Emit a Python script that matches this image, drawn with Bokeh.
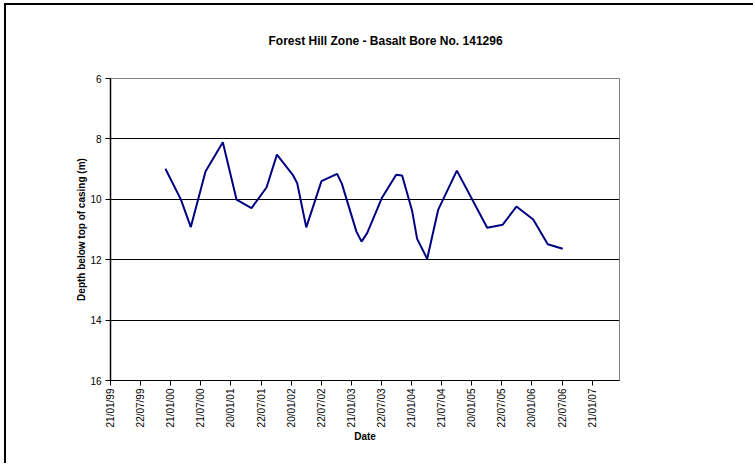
from datetime import date
from bokeh.plotting import figure
from bokeh.models import Range1d, FixedTicker, Title
from bokeh.embed import file_html
from bokeh.resources import INLINE

TITLE = "Forest Hill Zone - Basalt Bore No. 141296"
X_LABEL = "Date"
Y_LABEL = "Depth below top of casing (m)"

dates = [
    "1999-12-20", "2000-03-23", "2000-05-22", "2000-08-19", "2000-12-02",
    "2001-02-23", "2001-05-25", "2001-08-24", "2001-10-26", "2002-01-30",
    "2002-02-26", "2002-04-22", "2002-07-23", "2002-10-26", "2002-11-24",
    "2003-02-20", "2003-03-23", "2003-04-26", "2003-07-24", "2003-10-19",
    "2003-11-24", "2004-01-24", "2004-02-23", "2004-04-24", "2004-06-30",
    "2004-10-21", "2005-04-23", "2005-07-26", "2005-10-17", "2006-01-27",
    "2006-04-25", "2006-07-25",
]
depths = [
    8.99, 10.01, 10.92, 9.08, 8.11,
    10.01, 10.29, 9.61, 8.52, 9.19,
    9.47, 10.93, 9.40, 9.16, 9.49,
    11.07, 11.40, 11.12, 9.96, 9.19,
    9.21, 10.39, 11.31, 11.97, 10.34,
    9.05, 10.94, 10.84, 10.24, 10.67,
    11.49, 11.64,
]
x_tick_labels = [
    "21/01/99", "22/07/99", "21/01/00", "21/07/00", "20/01/01", "22/07/01",
    "20/01/02", "22/07/02", "21/01/03", "22/07/03", "21/01/04", "21/07/04",
    "20/01/05", "22/07/05", "20/01/06", "22/07/06", "21/01/07",
]
y_ticks = [6, 8, 10, 12, 14, 16]

AXIS_START = date(1999, 1, 21)
TICK_STEP_DAYS = 182.5
AXIS_END_DAYS = 3086

xs = [(date.fromisoformat(d) - AXIS_START).days for d in dates]
x_ticks = [i * TICK_STEP_DAYS for i in range(len(x_tick_labels))]

FONT = "Liberation Sans"

p = figure(
    width=749, height=460,
    output_backend="svg", toolbar_location=None,
    x_range=Range1d(0, AXIS_END_DAYS),
    y_range=Range1d(16, 6),
    min_border_left=104, min_border_right=136,
    min_border_top=73, min_border_bottom=85,
)
p.styles = {"margin-left": "4px", "margin-top": "3px",
            "border-left": "2px solid black", "border-top": "2px solid black"}

p.add_layout(Title(
    text=TITLE, text_font=FONT, text_font_size="12px", text_font_style="bold",
    text_color="black", align="left", offset=158,
    vertical_align="top", standoff=57,
), "above")

p.line(xs, depths, line_color="#000080", line_width=2)

# frame
p.outline_line_color = "#808080"
p.outline_line_width = 1
p.background_fill_color = "white"
p.border_fill_color = "white"

# grids
p.xgrid.grid_line_color = None
p.ygrid.grid_line_color = "black"
p.ygrid.grid_line_width = 1
p.ygrid.ticker = FixedTicker(ticks=y_ticks)

# x axis
xa = p.xaxis[0]
xa.ticker = FixedTicker(ticks=x_ticks)
xa.major_label_overrides = {t: lab for t, lab in zip(x_ticks, x_tick_labels)}
xa.major_label_orientation = 1.5707963
xa.major_tick_in = 0
xa.major_tick_out = 5
xa.minor_tick_line_color = None
xa.axis_line_color = "black"
xa.major_tick_line_color = "black"
xa.major_label_text_font = FONT
xa.major_label_text_font_size = "10px"
xa.major_label_text_color = "black"
xa.major_label_standoff = 3
xa.axis_label = X_LABEL
xa.axis_label_text_font = FONT
xa.axis_label_text_font_size = "10px"
xa.axis_label_text_font_style = "bold"
xa.axis_label_text_color = "black"
xa.axis_label_standoff = 1

# y axis
ya = p.yaxis[0]
ya.ticker = FixedTicker(ticks=y_ticks)
ya.major_tick_in = 0
ya.major_tick_out = 5
ya.minor_tick_line_color = None
ya.axis_line_color = "black"
ya.axis_line_width = 1.5
ya.major_tick_line_color = "black"
ya.major_label_text_font = FONT
ya.major_label_text_font_size = "10px"
ya.major_label_text_color = "black"
ya.major_label_standoff = 4
ya.axis_label = Y_LABEL
ya.axis_label_text_font = FONT
ya.axis_label_text_font_size = "10px"
ya.axis_label_text_font_style = "bold"
ya.axis_label_text_color = "black"
ya.axis_label_standoff = 0

open("out.html", "w").write(file_html(p, INLINE))
